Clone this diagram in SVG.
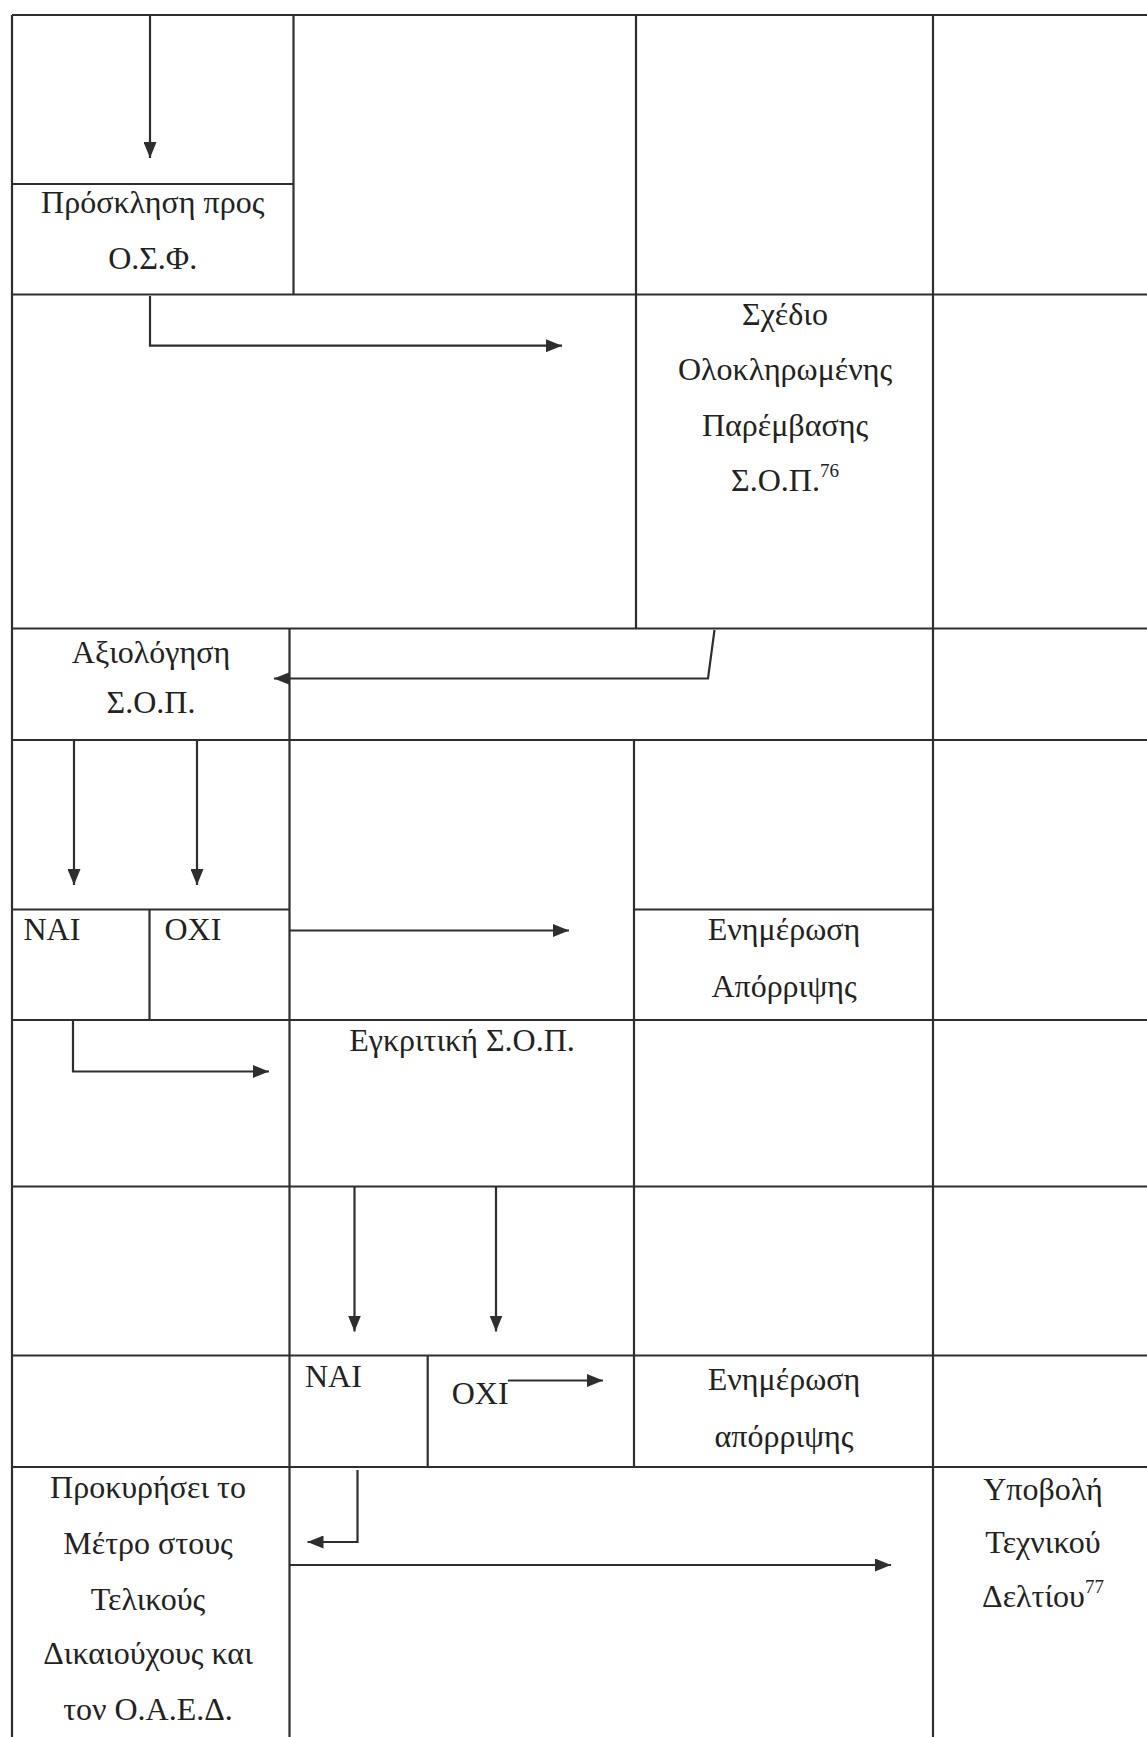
<svg xmlns="http://www.w3.org/2000/svg" width="1147" height="1737" viewBox="0 0 1147 1737">
<style>
.g line{stroke:#2e2e2e;stroke-width:2.2;}
.c path{fill:none;stroke:#2e2e2e;stroke-width:2.2;}
text{font-family:"Liberation Serif","Times New Roman",serif;font-size:32px;fill:#222;}
.m{text-anchor:middle;}
.sup{font-size:19px;}
</style>
<defs>
<marker id="ah" viewBox="0 0 16 13" markerWidth="16" markerHeight="13" refX="16" refY="6.5" orient="auto" markerUnits="userSpaceOnUse">
<path d="M0,0 L16,6.5 L0,13 z" fill="#2e2e2e"/>
</marker>
</defs>
<rect width="1147" height="1737" fill="#fff"/>
<g id="grid" class="g">
<line x1="12" y1="15" x2="1147" y2="15"/>
<line x1="12" y1="294.5" x2="1147" y2="294.5"/>
<line x1="12" y1="628.5" x2="1147" y2="628.5"/>
<line x1="12" y1="740" x2="1147" y2="740"/>
<line x1="12" y1="1020" x2="1147" y2="1020"/>
<line x1="12" y1="1186.5" x2="1147" y2="1186.5"/>
<line x1="12" y1="1355.5" x2="1147" y2="1355.5"/>
<line x1="12" y1="1467" x2="1147" y2="1467"/>
<line x1="12" y1="184" x2="293.5" y2="184"/>
<line x1="12" y1="909.5" x2="289.5" y2="909.5"/>
<line x1="634" y1="909.5" x2="933" y2="909.5"/>
<line x1="12" y1="15" x2="12" y2="1737"/>
<line x1="293.5" y1="15" x2="293.5" y2="294.5"/>
<line x1="289.5" y1="628.5" x2="289.5" y2="1737"/>
<line x1="636" y1="15" x2="636" y2="628.5"/>
<line x1="634" y1="740" x2="634" y2="1467"/>
<line x1="933" y1="15" x2="933" y2="1737"/>
<line x1="149.5" y1="909.5" x2="149.5" y2="1020"/>
<line x1="427.7" y1="1355.5" x2="427.7" y2="1467"/>
</g>
<g id="connectors" class="c">
<path d="M150,15 V158" marker-end="url(#ah)"/>
<path d="M150,296 V345.7 H562" marker-end="url(#ah)"/>
<path d="M714.5,630 L708,678.5 H274" marker-end="url(#ah)"/>
<path d="M74,740 V885" marker-end="url(#ah)"/>
<path d="M197,740 V885" marker-end="url(#ah)"/>
<path d="M289.5,930.5 H569" marker-end="url(#ah)"/>
<path d="M73,1020 V1071.5 H269" marker-end="url(#ah)"/>
<path d="M354.5,1186.5 V1331.5" marker-end="url(#ah)"/>
<path d="M496,1186.5 V1331.5" marker-end="url(#ah)"/>
<path d="M508,1380.5 H603" marker-end="url(#ah)"/>
<path d="M357.5,1470 V1542 H307.5" marker-end="url(#ah)"/>
<path d="M289.5,1565 H891" marker-end="url(#ah)"/>
</g>
<g id="n-prosklisi"><text class="m" x="152.7" y="213">Πρόσκληση προς</text><text class="m" x="152.7" y="269">Ο.Σ.Φ.</text></g>
<g id="n-sxedio"><text class="m" x="785" y="325">Σχέδιο</text><text class="m" x="785" y="380">Ολοκληρωμένης</text><text class="m" x="785" y="436">Παρέμβασης</text><text class="m" x="785" y="491">Σ.Ο.Π.<tspan class="sup" dy="-14">76</tspan></text></g>
<g id="n-axiologisi"><text class="m" x="151" y="663">Αξιολόγηση</text><text class="m" x="151" y="713">Σ.Ο.Π.</text></g>
<g id="n-nai1"><text x="23.5" y="940">ΝΑΙ</text></g>
<g id="n-oxi1"><text x="164.5" y="940">ΟΧΙ</text></g>
<g id="n-enimerosi1"><text class="m" x="784" y="940">Ενημέρωση</text><text class="m" x="784" y="996.5">Απόρριψης</text></g>
<g id="n-egkritiki"><text class="m" x="462" y="1051">Εγκριτική Σ.Ο.Π.</text></g>
<g id="n-nai2"><text x="305" y="1386.5">ΝΑΙ</text></g>
<g id="n-oxi2"><text x="451.7" y="1404">ΟΧΙ</text></g>
<g id="n-enimerosi2"><text class="m" x="784" y="1390">Ενημέρωση</text><text class="m" x="784" y="1446.5">απόρριψης</text></g>
<g id="n-prokirisei"><text class="m" x="148" y="1498">Προκυρήσει το</text><text class="m" x="148" y="1554">Μέτρο στους</text><text class="m" x="148" y="1610">Τελικούς</text><text class="m" x="148" y="1664">Δικαιούχους και</text><text class="m" x="148" y="1720">τον Ο.Α.Ε.Δ.</text></g>
<g id="n-ypovoli"><text class="m" x="1043" y="1500">Υποβολή</text><text class="m" x="1043" y="1553">Τεχνικού</text><text class="m" x="1043" y="1607">Δελτίου<tspan class="sup" dy="-14">77</tspan></text></g>
</svg>
